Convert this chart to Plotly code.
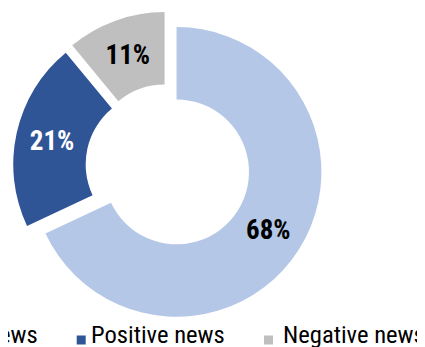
import plotly.graph_objects as go

labels = ["Neutral news", "Positive news", "Negative news"]
values = [68, 21, 11]
colors = ["#B4C7E7", "#2F5597", "#BFBFBF"]
text_colors = ["#000000", "#FFFFFF", "#000000"]

W, H = 425, 347
FONT = "Roboto Condensed, Liberation Sans Narrow, Arial Narrow, sans-serif"

fig = go.Figure(go.Pie(
    labels=labels, values=values, sort=False, direction="clockwise", rotation=0,
    hole=0.5, pull=[0.07] * len(values),
    marker=dict(colors=colors, line=dict(width=0)),
    texttemplate="%{percent:.0%}", textposition="inside",
    insidetextorientation="horizontal",
    insidetextfont=dict(color=text_colors, size=27, family=FONT, weight="bold"),
    domain=dict(x=[5 / W, 315 / W], y=[1 - 313.5 / H, 1 - 3.5 / H]),
    showlegend=False,
))

# manual legend (the reference legend overflows the left edge)
marker_x = [-118.6, 68.7, 256]  # left edge of each legend square, px
text_x = [32, 81, 273]          # text anchor, px
text_anchor = ["right", "left", "left"]
marker_y = 332                  # square centre, px
text_y = 326.7                  # text box centre, px
sq = 9
shapes, annotations = [], []
for lab, col, mx, tx, anc in zip(labels, colors, marker_x, text_x, text_anchor):
    shapes.append(dict(type="rect", xref="paper", yref="paper",
                       x0=mx / W, x1=(mx + sq) / W,
                       y0=1 - (marker_y + sq / 2) / H, y1=1 - (marker_y - sq / 2) / H,
                       fillcolor=col, line=dict(width=0)))
    annotations.append(dict(text=lab, xref="paper", yref="paper",
                            x=tx / W, y=1 - text_y / H, xanchor=anc, yanchor="middle",
                            showarrow=False,
                            font=dict(size=24.6, family=FONT, color="#000000")))

fig.update_layout(
    width=W, height=H,
    margin=dict(l=0, r=0, t=0, b=0),
    paper_bgcolor="white", plot_bgcolor="white",
    shapes=shapes, annotations=annotations,
)

fig.write_html("out.html")
